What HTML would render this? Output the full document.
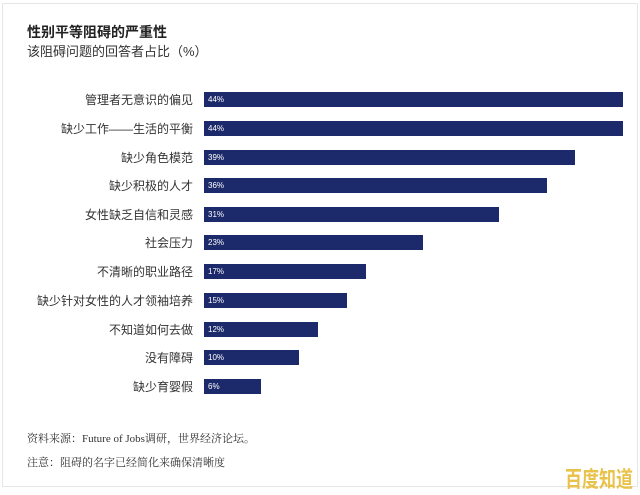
<!DOCTYPE html>
<html><head><meta charset="utf-8"><style>
body{margin:0;width:640px;height:493px;background:#fff;position:relative;overflow:hidden;font-family:"Liberation Sans","Noto Sans CJK SC",sans-serif}
.frame{position:absolute;left:2px;top:3px;width:636px;height:484px;border:1px solid #e6e6e6;box-sizing:border-box}
.t{position:absolute;left:27px;top:22px;font-size:14px;font-weight:bold;color:#222}
.s{position:absolute;left:27px;top:41px;font-size:13px;color:#333}
.l{position:absolute;right:447px;font-size:12px;color:#333;line-height:15px;white-space:nowrap}
.b{position:absolute;left:204px;height:15px;background:#1c2a6b}
.b span{position:absolute;left:4px;top:2px;font-size:8px;color:#fff;line-height:11px}
.f{position:absolute;left:27px;font-size:11px;color:#333;font-family:"Liberation Serif","Noto Serif CJK SC",serif}
.w{position:absolute;left:565px;top:461px;font-size:17px;font-weight:bold;color:#e8c24a;white-space:nowrap;font-family:"Noto Sans CJK SC",sans-serif;line-height:26px;transform:scale(1,1.3);transform-origin:left top}
</style></head><body>
<div class="frame"></div>
<div class="t">性别平等阻碍的严重性</div>
<div class="s">该阻碍问题的回答者占比（%）</div>

<div class="l" style="top:93px">管理者无意识的偏见</div><div class="b" style="top:92px;width:419px"><span>44%</span></div>
<div class="l" style="top:122px">缺少工作——生活的平衡</div><div class="b" style="top:121px;width:419px"><span>44%</span></div>
<div class="l" style="top:151px">缺少角色模范</div><div class="b" style="top:150px;width:371px"><span>39%</span></div>
<div class="l" style="top:179px">缺少积极的人才</div><div class="b" style="top:178px;width:343px"><span>36%</span></div>
<div class="l" style="top:208px">女性缺乏自信和灵感</div><div class="b" style="top:207px;width:295px"><span>31%</span></div>
<div class="l" style="top:236px">社会压力</div><div class="b" style="top:235px;width:219px"><span>23%</span></div>
<div class="l" style="top:265px">不清晰的职业路径</div><div class="b" style="top:264px;width:162px"><span>17%</span></div>
<div class="l" style="top:294px">缺少针对女性的人才领袖培养</div><div class="b" style="top:293px;width:143px"><span>15%</span></div>
<div class="l" style="top:323px">不知道如何去做</div><div class="b" style="top:322px;width:114px"><span>12%</span></div>
<div class="l" style="top:351px">没有障碍</div><div class="b" style="top:350px;width:95px"><span>10%</span></div>
<div class="l" style="top:380px">缺少育婴假</div><div class="b" style="top:379px;width:57px"><span>6%</span></div>

<div class="f" style="top:430px">资料来源：Future of Jobs调研，世界经济论坛。</div>
<div class="f" style="top:454px">注意：阻碍的名字已经简化来确保清晰度</div>
<div class="w">百度知道</div>
</body></html>
